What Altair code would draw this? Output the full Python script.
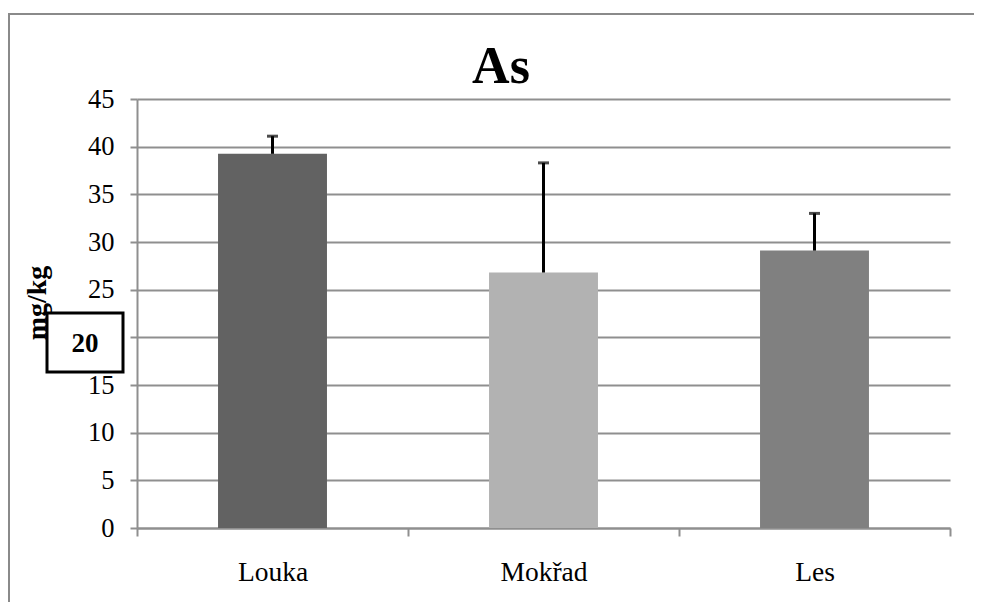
import altair as alt
import pandas as pd

categories = ["Louka", "Mokřad", "Les"]
means = [39.25, 26.8, 29.1]
err_tops = [41.1, 38.3, 33.0]
bar_colors = ["#626262", "#b2b2b2", "#808080"]
y_ticks = [0, 5, 10, 15, 20, 25, 30, 35, 40, 45]
title_text = ["As"]
ylabel_text = ["mg/kg"]
box_text = ["20"]

FONT = "Times New Roman, Liberation Serif, serif"
GRID = "#8f8f8f"

df = pd.DataFrame({"cat": categories, "mean": means, "top": err_tops, "color": bar_colors})

x_enc = alt.X(
    "cat:N", sort=categories,
    scale=alt.Scale(paddingInner=0, paddingOuter=0),
    axis=alt.Axis(title=None, labelAngle=0, labelFont=FONT, labelFontSize=27.5,
                  labelColor="black", labelBaseline="alphabetic", labelPadding=44,
                  tickBand="extent", tickSize=8, tickColor=GRID, tickWidth=2,
                  domainColor=GRID, domainWidth=2, grid=False),
)
y_enc = alt.Y(
    "mean:Q",
    scale=alt.Scale(domain=[0, 45], nice=False),
    axis=alt.Axis(title=None, values=y_ticks, labelFont=FONT, labelFontSize=26.5,
                  labelColor="black", labelPadding=16, tickSize=7, tickColor=GRID,
                  tickWidth=2, domainColor=GRID, domainWidth=2, grid=True,
                  gridColor=GRID, gridWidth=2),
)

base = alt.Chart(df)
bars = base.mark_bar(width=alt.RelativeBandSize(0.402)).encode(
    x=x_enc, y=y_enc, color=alt.Color("color:N", scale=None)
)
err = base.mark_rule(color="black", strokeWidth=3).encode(
    x=alt.X("cat:N", sort=categories), y="mean:Q", y2="top:Q"
)
caps = base.mark_tick(color="black", thickness=3, size=11).encode(
    x=alt.X("cat:N", sort=categories), y="top:Q"
)

one = pd.DataFrame({"a": [0]})
border_top = alt.Chart(one).mark_rule(color="#8a8a8a", strokeWidth=2).encode(
    x=alt.value(-128), x2=alt.value(860), y=alt.value(-85)
)
border_left = alt.Chart(one).mark_rule(color="#8a8a8a", strokeWidth=2).encode(
    x=alt.value(-128), y=alt.value(-86), y2=alt.value(560)
)

title = alt.Chart(pd.DataFrame({"t": title_text})).mark_text(
    font=FONT, fontSize=52, fontWeight="bold", color="black",
    align="center", baseline="alphabetic"
).encode(text="t:N", x=alt.value(364), y=alt.value(-16))

ylabel = alt.Chart(pd.DataFrame({"t": ylabel_text})).mark_text(
    font=FONT, fontSize=28, fontWeight="bold", color="black",
    align="center", baseline="middle", angle=270
).encode(text="t:N", x=alt.value(-99), y=alt.value(204))

box = alt.Chart(one).mark_rect(
    fill="white", stroke="black", strokeWidth=3
).encode(x=alt.value(-90), x2=alt.value(-14), y=alt.value(214), y2=alt.value(273))

boxlabel = alt.Chart(pd.DataFrame({"t": box_text})).mark_text(
    font=FONT, fontSize=27, fontWeight="bold", color="black",
    align="center", baseline="middle"
).encode(text="t:N", x=alt.value(-52), y=alt.value(245))

chart = alt.layer(bars, err, caps, border_top, border_left, title, ylabel, box, boxlabel).properties(
    width=813, height=429,
    autosize=alt.AutoSizeParams(type="none"),
    padding={"left": 129, "top": 91, "right": 24, "bottom": 74},
).configure_view(stroke=None)

chart.save("out.html", embed_options={"renderer": "svg", "actions": False})
